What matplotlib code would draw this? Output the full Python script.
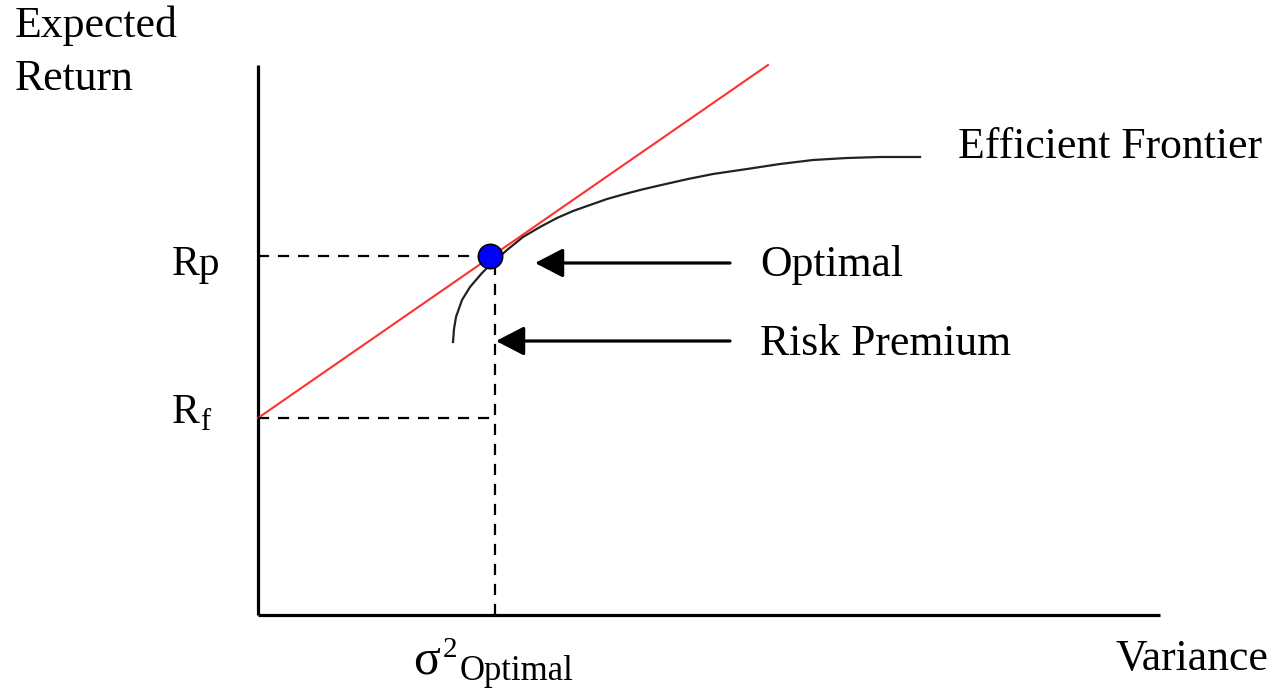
import numpy as np
import matplotlib
matplotlib.use('Agg')
import matplotlib.pyplot as plt

# values (variance, expected return), arbitrary units
frontier_var = [1.95, 1.96, 1.98, 2.04, 2.12, 2.24, 2.32, 2.49, 2.65, 2.82, 2.99, 3.15, 3.32,
                3.49, 3.65, 3.82, 3.99, 4.30, 4.55, 4.89, 5.22, 5.55, 5.89, 6.22, 6.62]
frontier_ret = [2.73, 2.86, 2.98, 3.15, 3.28, 3.42, 3.50, 3.65, 3.78, 3.88, 3.97, 4.04, 4.10,
                4.16, 4.205, 4.25, 4.29, 4.36, 4.41, 4.46, 4.51, 4.55, 4.57, 4.58, 4.58]
rf = 1.97            # risk free rate
rp = 3.59            # optimal portfolio return
opt_var = 2.32       # optimal portfolio variance
cml_end = (5.10, 5.50)
var_max = 9.02
ret_max = 5.50
dash_x = 2.37        # vertical dashed guide

plt.rcParams['font.family'] = ['Liberation Serif', 'DejaVu Serif']

fig = plt.figure(figsize=(12.74, 6.89), dpi=100)
ax = fig.add_axes([0, 0, 1, 1])
ax.set_xlim(-2.58, 10.16)
ax.set_ylim(-0.74, 6.15)
ax.axis('off')

# axes lines
ax.plot([0, 0], [0, ret_max], color='black', lw=2.3, solid_capstyle='butt')
ax.plot([0, var_max], [0, 0], color='black', lw=2.3, solid_capstyle='butt')

# capital market line
ax.plot([0, cml_end[0]], [rf, cml_end[1]], color='#ff3030', lw=1.5)

# efficient frontier
ax.plot(frontier_var, frontier_ret, color='#222222', lw=1.6)

# dashed guides
dash = dict(color='black', lw=1.6, ls=(0, (5, 4)))
ax.plot([0, opt_var], [rp, rp], **dash)
ax.plot([0, dash_x], [rf, rf], **dash)
ax.plot([dash_x, dash_x], [0, rp - 0.12], **dash)

# optimal point
ax.plot(opt_var, rp, 'o', ms=17.5, mfc='#0000ff', mec='black', mew=1.2, zorder=5)

# arrows
arrow = dict(arrowstyle='-|>,head_length=0.58,head_width=0.3', color='black',
             lw=2.3, mutation_scale=30, shrinkA=0, shrinkB=0)
ax.annotate('', xy=(2.77, 3.52), xytext=(4.72, 3.52), arrowprops=arrow)
ax.annotate('', xy=(2.38, 2.74), xytext=(4.72, 2.74), arrowprops=arrow)

fs = 31.5
ax.text(5.02, 3.39, 'Optimal', fontsize=fs, va='baseline')
ax.text(5.02, 2.60, 'Risk Premium', fontsize=fs, va='baseline')
ax.text(7.00, 4.57, 'Efficient Frontier', fontsize=fs, va='baseline')
ax.text(-2.43, 5.78, 'Expected', fontsize=fs, va='baseline')
ax.text(-2.43, 5.25, 'Return', fontsize=fs, va='baseline')
ax.text(8.57, -0.55, 'Variance', fontsize=fs, va='baseline')

ax.text(-0.86, 3.40, 'Rp', fontsize=30, va='baseline')
ax.text(-0.86, 1.92, 'R', fontsize=30, va='baseline')
ax.text(-0.58, 1.85, 'f', fontsize=22, va='baseline')

ax.text(1.55, -0.58, 'σ', fontsize=36, va='baseline')
ax.text(1.85, -0.42, '2', fontsize=21, va='baseline')
ax.text(2.02, -0.65, 'Optimal', fontsize=25, va='baseline')

plt.savefig('out.png', dpi=100)
